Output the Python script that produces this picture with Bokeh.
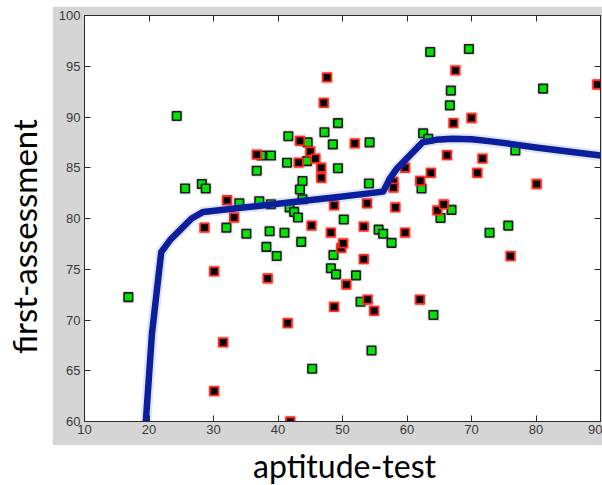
import math
from bokeh.plotting import figure
from bokeh.models import Range1d, LinearAxis, FixedTicker, Label, CustomJSTickFormatter, Spacer
from bokeh.layouts import column, row
from bokeh.embed import file_html
from bokeh.resources import INLINE

# ---------------- data ----------------
green_x = [16.8, 24.3, 25.6, 28.2, 28.8, 32.0, 34.0, 35.1, 36.7, 37.1, 37.4, 38.9, 38.9, 38.2,
           38.7, 39.8, 41.0, 41.6, 41.4, 41.8, 42.5, 43.1, 43.4, 43.8, 43.8, 43.6, 44.6, 44.5,
           45.3, 47.2, 48.5, 49.3, 49.3, 50.2, 48.6, 48.2, 49.0, 52.1, 52.8, 54.1, 54.2, 54.5,
           55.6, 56.3, 57.6, 62.5, 63.3, 62.25, 63.6, 64.1, 65.2, 66.9, 66.8, 66.65, 69.6, 72.8,
           75.7, 76.8, 81.1]
green_y = [72.25, 90.1, 82.95, 83.4, 82.95, 79.1, 81.5, 78.5, 84.7, 81.7, 86.2, 86.2, 81.4, 77.2,
           78.75, 76.3, 78.6, 88.1, 85.5, 81.1, 80.65, 80.1, 82.85, 83.7, 81.9, 77.7, 87.5, 85.65,
           65.2, 88.5, 87.3, 89.4, 84.95, 79.9, 76.4, 75.1, 74.5, 74.4, 71.8, 83.45, 87.5, 67.0,
           78.9, 78.5, 77.6, 88.4, 87.85, 82.95, 96.4, 70.5, 80.05, 80.85, 92.6, 91.15, 96.7, 78.6,
           79.3, 86.7, 92.8]

red_x = [28.6, 30.1, 30.1, 31.5, 32.1, 33.2, 36.7, 38.4, 41.5, 41.9, 43.4, 43.2, 45.0, 45.8,
         45.2, 46.7, 46.7, 47.1, 47.6, 48.7, 48.2, 48.7, 49.8, 50.1, 50.6, 51.9, 53.3, 53.3,
         53.8, 53.9, 54.9, 57.9, 57.9, 58.2, 59.7, 59.7, 62.0, 62.05, 63.7, 64.7, 65.7, 66.2,
         67.2, 67.5, 70.0, 70.9, 71.7, 76.05, 80.1, 89.5]
red_y = [79.1, 74.8, 63.0, 67.8, 81.8, 80.1, 86.3, 74.1, 69.7, 60.0, 87.65, 85.5, 86.6, 85.9,
         79.3, 85.0, 84.0, 91.4, 93.9, 81.3, 78.6, 71.3, 77.1, 77.55, 73.5, 87.4, 79.2, 76.0,
         81.5, 72.0, 70.9, 83.6, 83.05, 81.1, 85.0, 78.6, 72.0, 83.7, 84.5, 80.8, 81.4, 86.25,
         89.4, 94.6, 89.9, 84.5, 85.9, 76.3, 83.4, 93.2]

fit_x = [19.4, 20.45, 21.9, 23.3, 24.8, 26.6, 28.4, 35.0, 42.0, 49.0, 56.3, 57.3, 58.4, 59.5,
         62.4, 64.5, 67.0, 70.0, 73.0, 76.0, 80.0, 85.0, 90.0]
fit_y = [59.0, 68.6, 76.7, 77.9, 78.85, 80.0, 80.65, 81.1, 81.6, 82.1, 82.65, 83.9, 84.9, 85.6,
         87.5, 87.75, 87.85, 87.8, 87.6, 87.35, 87.0, 86.6, 86.2]

x_ticks = [10, 20, 30, 40, 50, 60, 70, 80, 90]
y_ticks = [60, 65, 70, 75, 80, 85, 90, 95, 100]

x_title = "aptitude-test"
y_title = "first-assessment"

# ---------------- styling ----------------
GREY = "#d5d5d5"
AX = "#2a2a2a"
TICK_FONT = "Liberation Sans"
TITLE_FONT = "Lato"

MAIN_W, MAIN_H = 550, 439

main = figure(width=MAIN_W, height=MAIN_H, output_backend="svg", toolbar_location=None,
              x_range=Range1d(10, 90), y_range=Range1d(60, 100),
              min_border_left=32, min_border_right=2, min_border_top=9, min_border_bottom=24,
              x_axis_location=None, y_axis_location=None)
main.border_fill_color = GREY
main.background_fill_color = "white"
main.outline_line_color = AX
main.outline_line_width = 1
main.grid.visible = False

def style_axis(ax, labels=True):
    ax.axis_line_color = AX
    ax.major_tick_line_color = AX
    ax.major_tick_in = 6
    ax.major_tick_out = 0
    ax.minor_tick_line_color = None
    ax.major_label_text_font = TICK_FONT
    ax.major_label_text_font_size = "13px"
    ax.major_label_text_color = "#3a3a3a"
    if not labels:
        ax.formatter = CustomJSTickFormatter(code="return ''")
        ax.major_label_standoff = 0
        ax.major_label_text_font_size = "0px"

bx = LinearAxis(ticker=FixedTicker(ticks=x_ticks))
style_axis(bx)
bx.major_label_standoff = 3
main.add_layout(bx, "below")
lx = LinearAxis(ticker=FixedTicker(ticks=y_ticks))
style_axis(lx)
lx.major_label_standoff = 4
main.add_layout(lx, "left")
tx = LinearAxis(ticker=FixedTicker(ticks=x_ticks))
style_axis(tx, labels=False)
main.add_layout(tx, "above")
rx = LinearAxis(ticker=FixedTicker(ticks=y_ticks))
style_axis(rx, labels=False)
main.add_layout(rx, "right")

# halos
main.scatter(green_x, green_y, marker="square", size=12, fill_color="#808080", fill_alpha=0.25,
             line_color=None)
main.scatter(green_x, green_y, marker="square", size=8.5, fill_color="#00e400",
             line_color="#1c1c1c", line_width=1.6)
main.scatter(red_x, red_y, marker="square", size=12, fill_color="#ff4040", fill_alpha=0.25,
             line_color=None)
main.scatter(red_x, red_y, marker="square", size=8.5, fill_color="#000000",
             line_color="#ff2a1a", line_width=1.8)

# fitted line with soft glow
main.line(fit_x, fit_y, line_color="#5a6fd0", line_width=11, line_alpha=0.18, line_join="round")
main.line(fit_x, fit_y, line_color="#0b1f9c", line_width=6.5, line_join="round", line_cap="round")

# y title panel (page x 0..52, page y 6..445)
ylab = figure(width=52, height=MAIN_H, output_backend="svg", toolbar_location=None,
              x_range=Range1d(0, 52), y_range=Range1d(0, MAIN_H),
              min_border=0, x_axis_location=None, y_axis_location=None)
ylab.outline_line_color = None
ylab.grid.visible = False
ylab.border_fill_color = "white"
ylab.background_fill_color = "white"
ylab.add_layout(Label(x=23, y=200, text=y_title, angle=math.pi / 2,
                      text_align="center", text_baseline="alphabetic",
                      text_font=TITLE_FONT, text_font_size="33px", text_color="black"))

# x title panel (page y 445..485)
XL_H = 40
xlab = figure(width=602, height=XL_H, output_backend="svg", toolbar_location=None,
              x_range=Range1d(0, 602), y_range=Range1d(0, XL_H),
              min_border=0, x_axis_location=None, y_axis_location=None)
xlab.outline_line_color = None
xlab.grid.visible = False
xlab.border_fill_color = "white"
xlab.background_fill_color = "white"
xlab.add_layout(Label(x=344, y=20, text=x_title, text_align="center",
                      text_baseline="alphabetic", text_font=TITLE_FONT,
                      text_font_size="32px", text_color="black"))

top = Spacer(width=602, height=6)
layout = column(top, row(ylab, main), xlab)
open("out.html", "w").write(file_html(layout, INLINE))
